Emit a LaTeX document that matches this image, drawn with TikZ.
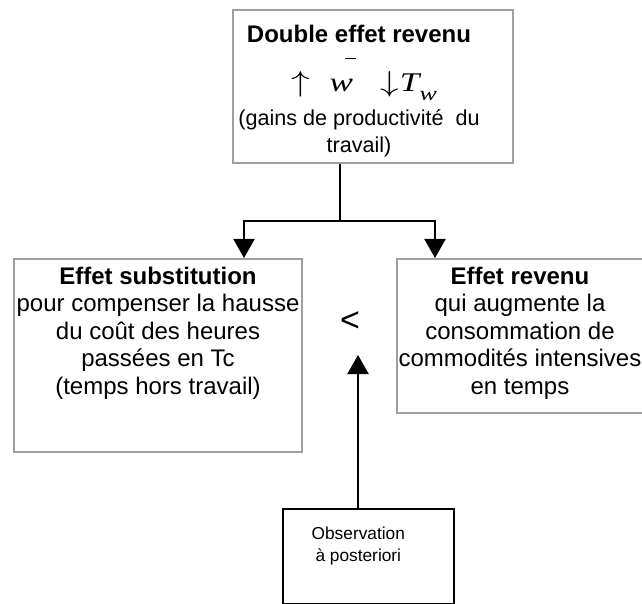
\documentclass[tikz,border=0pt]{standalone}
\usepackage{graphicx}
\usepackage{fontspec}
\setmainfont{Liberation Sans}
\newfontfamily\timesfont{Liberation Serif}
\usetikzlibrary{positioning, arrows.meta}

\tikzset{
  graybox/.style={draw=gray!75, line width=1pt, inner sep=0pt, anchor=north west},
  obsbox/.style={draw, line width=0.8pt, inner sep=0pt, anchor=north west},
  boxtext/.style={inner sep=0pt, align=center, font=\fontsize{12}{13.75}\selectfont},
  arr/.style={line width=1pt, -{Triangle[width=10.5pt,length=9.5pt]}}
}

\begin{document}
\begin{tikzpicture}[x=0.5pt, y=-0.5pt]
    \useasboundingbox (0,0) rectangle (642,604);
    % boxes
    \node[graybox, minimum width=140pt, minimum height=76.5pt] (double) at (232,9) {};
    \node[graybox, minimum width=144pt, minimum height=96.5pt] (subst) at (13,258) {};
    \node[graybox, minimum width=125pt, minimum height=77pt] (revenu) at (396,258) {};
    \node[obsbox, minimum width=85.5pt, minimum height=47.5pt] (obs) at (282,508) {};
    % texts
    \node[boxtext, below=7.75pt of double.north, xshift=-7pt] (doubletxt) {\textbf{Double effet revenu}\\[6.75pt]
        {\fontsize{13.5}{13.75}\timesfont\scalebox{1.3}[1]{\hspace{4pt}$\uparrow$\hspace{7.4pt}\makebox[0pt][l]{\hspace{6pt}\raisebox{16pt}{\rule{4.2pt}{0.7pt}}}{\itshape w}\hspace{10.6pt}$\downarrow$\hspace{0.3pt}{\itshape T}\raisebox{-4.5pt}{\fontsize{10}{10}\selectfont\itshape w}}}\\[3.25pt]
        {\fontsize{10.8}{13.75}\selectfont (gains de productivité~ du}\\
        {\fontsize{10.8}{13.75}\selectfont travail)}};
    \node[boxtext, below=4.25pt of subst.north] (substtxt) {\textbf{Effet substitution}\\ pour compenser la hausse\\ du coût des heures\\ passées en Tc\\ (temps hors travail)};
    \node[boxtext, below=4.25pt of revenu.north, xshift=-1pt] (revenutxt) {\textbf{Effet revenu}\\ qui augmente la\\ consommation de\\ commodités intensives\\ en temps};
    \node[boxtext, below=9.5pt of obs.north, xshift=-5pt, font=\fontsize{8.65}{11}\selectfont] (obstxt) {Observation\\ à posteriori};
    \node[inner sep=0pt, font=\fontsize{17}{20}\selectfont] (lt) at (350,322) {<};
    % connectors
    \coordinate (jn) at (340,221);
    \coordinate (tip) at (358,355);
    \draw[line width=1pt] (double.south -| jn) -- (jn);
    \draw[arr] (jn) -| ([xshift=115.5pt]subst.north west);
    \draw[arr] (jn) -| ([xshift=19.5pt]revenu.north west);
    \draw[arr] ([xshift=38pt]obs.north west) -- (tip);
\end{tikzpicture}
\end{document}
